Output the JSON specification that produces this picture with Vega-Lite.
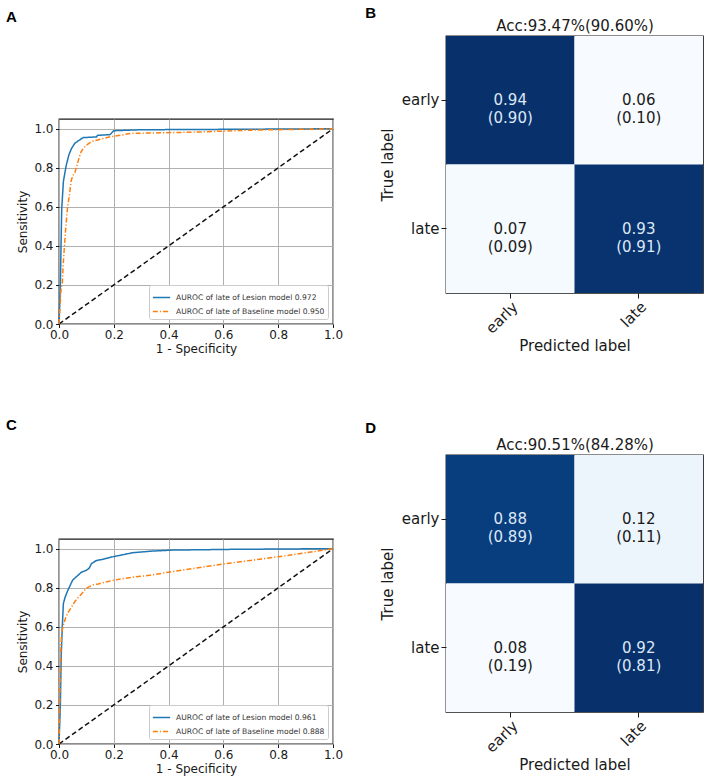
{
  "$schema": "https://vega.github.io/schema/vega-lite/v6.json",
  "background": "#ffffff",
  "padding": {"left": 5, "top": 5, "right": 5, "bottom": 5},
  "datasets": {
    "diag": [
      {"fpr": 0, "tpr": 0},
      {"fpr": 1, "tpr": 1}
    ],
    "rocA": [
      {"model": "AUROC of late of Lesion model 0.972", "fpr": 0, "tpr": 0},
      {"model": "AUROC of late of Lesion model 0.972", "fpr": 0.005, "tpr": 0.2},
      {"model": "AUROC of late of Lesion model 0.972", "fpr": 0.008, "tpr": 0.45},
      {"model": "AUROC of late of Lesion model 0.972", "fpr": 0.01, "tpr": 0.59},
      {"model": "AUROC of late of Lesion model 0.972", "fpr": 0.016, "tpr": 0.73},
      {"model": "AUROC of late of Lesion model 0.972", "fpr": 0.026, "tpr": 0.81},
      {"model": "AUROC of late of Lesion model 0.972", "fpr": 0.036, "tpr": 0.866},
      {"model": "AUROC of late of Lesion model 0.972", "fpr": 0.046, "tpr": 0.9},
      {"model": "AUROC of late of Lesion model 0.972", "fpr": 0.058, "tpr": 0.926},
      {"model": "AUROC of late of Lesion model 0.972", "fpr": 0.07, "tpr": 0.938},
      {"model": "AUROC of late of Lesion model 0.972", "fpr": 0.089, "tpr": 0.955},
      {"model": "AUROC of late of Lesion model 0.972", "fpr": 0.137, "tpr": 0.958},
      {"model": "AUROC of late of Lesion model 0.972", "fpr": 0.14, "tpr": 0.966},
      {"model": "AUROC of late of Lesion model 0.972", "fpr": 0.186, "tpr": 0.97},
      {"model": "AUROC of late of Lesion model 0.972", "fpr": 0.2, "tpr": 0.99},
      {"model": "AUROC of late of Lesion model 0.972", "fpr": 0.3, "tpr": 0.995},
      {"model": "AUROC of late of Lesion model 0.972", "fpr": 0.6, "tpr": 0.997},
      {"model": "AUROC of late of Lesion model 0.972", "fpr": 1, "tpr": 1},
      {"model": "AUROC of late of Baseline model 0.950", "fpr": 0, "tpr": 0},
      {"model": "AUROC of late of Baseline model 0.950", "fpr": 0.008, "tpr": 0.19},
      {"model": "AUROC of late of Baseline model 0.950", "fpr": 0.012, "tpr": 0.2},
      {"model": "AUROC of late of Baseline model 0.950", "fpr": 0.015, "tpr": 0.3},
      {"model": "AUROC of late of Baseline model 0.950", "fpr": 0.02, "tpr": 0.4},
      {"model": "AUROC of late of Baseline model 0.950", "fpr": 0.025, "tpr": 0.5},
      {"model": "AUROC of late of Baseline model 0.950", "fpr": 0.03, "tpr": 0.58},
      {"model": "AUROC of late of Baseline model 0.950", "fpr": 0.034, "tpr": 0.625},
      {"model": "AUROC of late of Baseline model 0.950", "fpr": 0.038, "tpr": 0.66},
      {"model": "AUROC of late of Baseline model 0.950", "fpr": 0.044, "tpr": 0.73},
      {"model": "AUROC of late of Baseline model 0.950", "fpr": 0.05, "tpr": 0.76},
      {"model": "AUROC of late of Baseline model 0.950", "fpr": 0.058, "tpr": 0.775},
      {"model": "AUROC of late of Baseline model 0.950", "fpr": 0.065, "tpr": 0.81},
      {"model": "AUROC of late of Baseline model 0.950", "fpr": 0.073, "tpr": 0.85},
      {"model": "AUROC of late of Baseline model 0.950", "fpr": 0.08, "tpr": 0.88},
      {"model": "AUROC of late of Baseline model 0.950", "fpr": 0.089, "tpr": 0.9},
      {"model": "AUROC of late of Baseline model 0.950", "fpr": 0.1, "tpr": 0.916},
      {"model": "AUROC of late of Baseline model 0.950", "fpr": 0.119, "tpr": 0.935},
      {"model": "AUROC of late of Baseline model 0.950", "fpr": 0.156, "tpr": 0.948},
      {"model": "AUROC of late of Baseline model 0.950", "fpr": 0.19, "tpr": 0.96},
      {"model": "AUROC of late of Baseline model 0.950", "fpr": 0.229, "tpr": 0.968},
      {"model": "AUROC of late of Baseline model 0.950", "fpr": 0.259, "tpr": 0.976},
      {"model": "AUROC of late of Baseline model 0.950", "fpr": 0.5, "tpr": 0.983},
      {"model": "AUROC of late of Baseline model 0.950", "fpr": 0.7, "tpr": 0.993},
      {"model": "AUROC of late of Baseline model 0.950", "fpr": 1, "tpr": 1}
    ],
    "rocC": [
      {"model": "AUROC of late of Lesion model 0.961", "fpr": 0, "tpr": 0},
      {"model": "AUROC of late of Lesion model 0.961", "fpr": 0.005, "tpr": 0.2},
      {"model": "AUROC of late of Lesion model 0.961", "fpr": 0.008, "tpr": 0.45},
      {"model": "AUROC of late of Lesion model 0.961", "fpr": 0.012, "tpr": 0.6},
      {"model": "AUROC of late of Lesion model 0.961", "fpr": 0.016, "tpr": 0.72},
      {"model": "AUROC of late of Lesion model 0.961", "fpr": 0.022, "tpr": 0.75},
      {"model": "AUROC of late of Lesion model 0.961", "fpr": 0.03, "tpr": 0.78},
      {"model": "AUROC of late of Lesion model 0.961", "fpr": 0.04, "tpr": 0.81},
      {"model": "AUROC of late of Lesion model 0.961", "fpr": 0.05, "tpr": 0.84},
      {"model": "AUROC of late of Lesion model 0.961", "fpr": 0.058, "tpr": 0.85},
      {"model": "AUROC of late of Lesion model 0.961", "fpr": 0.07, "tpr": 0.865},
      {"model": "AUROC of late of Lesion model 0.961", "fpr": 0.082, "tpr": 0.88},
      {"model": "AUROC of late of Lesion model 0.961", "fpr": 0.1, "tpr": 0.89},
      {"model": "AUROC of late of Lesion model 0.961", "fpr": 0.11, "tpr": 0.9},
      {"model": "AUROC of late of Lesion model 0.961", "fpr": 0.119, "tpr": 0.925},
      {"model": "AUROC of late of Lesion model 0.961", "fpr": 0.137, "tpr": 0.94},
      {"model": "AUROC of late of Lesion model 0.961", "fpr": 0.156, "tpr": 0.945},
      {"model": "AUROC of late of Lesion model 0.961", "fpr": 0.2, "tpr": 0.96},
      {"model": "AUROC of late of Lesion model 0.961", "fpr": 0.27, "tpr": 0.98},
      {"model": "AUROC of late of Lesion model 0.961", "fpr": 0.34, "tpr": 0.988},
      {"model": "AUROC of late of Lesion model 0.961", "fpr": 0.41, "tpr": 0.993},
      {"model": "AUROC of late of Lesion model 0.961", "fpr": 0.63, "tpr": 0.997},
      {"model": "AUROC of late of Lesion model 0.961", "fpr": 0.94, "tpr": 1},
      {"model": "AUROC of late of Lesion model 0.961", "fpr": 1, "tpr": 1},
      {"model": "AUROC of late of Baseline model 0.888", "fpr": 0, "tpr": 0},
      {"model": "AUROC of late of Baseline model 0.888", "fpr": 0.004, "tpr": 0.3},
      {"model": "AUROC of late of Baseline model 0.888", "fpr": 0.007, "tpr": 0.5},
      {"model": "AUROC of late of Baseline model 0.888", "fpr": 0.01, "tpr": 0.57},
      {"model": "AUROC of late of Baseline model 0.888", "fpr": 0.016, "tpr": 0.61},
      {"model": "AUROC of late of Baseline model 0.888", "fpr": 0.025, "tpr": 0.65},
      {"model": "AUROC of late of Baseline model 0.888", "fpr": 0.034, "tpr": 0.675},
      {"model": "AUROC of late of Baseline model 0.888", "fpr": 0.045, "tpr": 0.7},
      {"model": "AUROC of late of Baseline model 0.888", "fpr": 0.058, "tpr": 0.73},
      {"model": "AUROC of late of Baseline model 0.888", "fpr": 0.07, "tpr": 0.75},
      {"model": "AUROC of late of Baseline model 0.888", "fpr": 0.083, "tpr": 0.77},
      {"model": "AUROC of late of Baseline model 0.888", "fpr": 0.095, "tpr": 0.79},
      {"model": "AUROC of late of Baseline model 0.888", "fpr": 0.107, "tpr": 0.804},
      {"model": "AUROC of late of Baseline model 0.888", "fpr": 0.125, "tpr": 0.815},
      {"model": "AUROC of late of Baseline model 0.888", "fpr": 0.143, "tpr": 0.82},
      {"model": "AUROC of late of Baseline model 0.888", "fpr": 0.17, "tpr": 0.83},
      {"model": "AUROC of late of Baseline model 0.888", "fpr": 0.2, "tpr": 0.839},
      {"model": "AUROC of late of Baseline model 0.888", "fpr": 0.277, "tpr": 0.856},
      {"model": "AUROC of late of Baseline model 0.888", "fpr": 0.33, "tpr": 0.864},
      {"model": "AUROC of late of Baseline model 0.888", "fpr": 0.4, "tpr": 0.88},
      {"model": "AUROC of late of Baseline model 0.888", "fpr": 0.6, "tpr": 0.922},
      {"model": "AUROC of late of Baseline model 0.888", "fpr": 0.8, "tpr": 0.959},
      {"model": "AUROC of late of Baseline model 0.888", "fpr": 1, "tpr": 1}
    ],
    "cmB": [
      {"actual": "early", "pred": "early", "v": 0.94, "b": 0.90},
      {"actual": "early", "pred": "late", "v": 0.06, "b": 0.10},
      {"actual": "late", "pred": "early", "v": 0.07, "b": 0.09},
      {"actual": "late", "pred": "late", "v": 0.93, "b": 0.91}
    ],
    "cmD": [
      {"actual": "early", "pred": "early", "v": 0.88, "b": 0.89},
      {"actual": "early", "pred": "late", "v": 0.12, "b": 0.11},
      {"actual": "late", "pred": "early", "v": 0.08, "b": 0.19},
      {"actual": "late", "pred": "late", "v": 0.92, "b": 0.81}
    ]
  },
  "spacing": 20,
  "resolve": {"scale": {"color": "independent", "strokeDash": "independent"}, "legend": {"color": "independent", "strokeDash": "independent"}},
  "hconcat": [
    {
      "spacing": 61,
      "resolve": {"scale": {"color": "independent", "strokeDash": "independent"}, "legend": {"color": "independent", "strokeDash": "independent"}},
      "vconcat": [
        {
          "width": 274,
          "height": 21,
          "view": {"stroke": null},
          "title": {"text": "A", "offset": 11, "dx": -53},
          "data": {"values": []},
          "mark": "rect"
        },
        {
          "width": 274,
          "height": 205,
          "layer": [
            {
              "data": {"name": "diag"},
              "mark": {"type": "line", "color": "#111111", "strokeWidth": 1.5, "strokeDash": [5, 3]},
              "encoding": {
                "x": {"field": "fpr", "type": "quantitative", "scale": {"domain": [0, 1], "nice": false, "zero": false},
                  "axis": {"title": "1 - Specificity", "values": [0, 0.2, 0.4, 0.6, 0.8, 1.0], "format": ".1f", "grid": true, "gridColor": "#b0b0b0", "gridWidth": 1, "tickSize": 3.5, "labelPadding": 2, "labelFontSize": 12, "titleFontSize": 12, "titlePadding": 3, "labelFlush": false, "labelOverlap": false}},
                "y": {"field": "tpr", "type": "quantitative", "scale": {"domain": [0, 1.05], "nice": false, "zero": false},
                  "axis": {"title": "Sensitivity", "values": [0, 0.2, 0.4, 0.6, 0.8, 1.0], "format": ".1f", "grid": true, "gridColor": "#b0b0b0", "gridWidth": 1, "tickSize": 3.5, "labelPadding": 2.5, "labelFontSize": 12, "titleFontSize": 12, "titlePadding": 4, "labelFlush": false, "labelOverlap": false}}
              }
            },
            {
              "data": {"name": "rocA"},
              "mark": {"type": "line", "strokeWidth": 1.5},
              "encoding": {
                "x": {"field": "fpr", "type": "quantitative"},
                "y": {"field": "tpr", "type": "quantitative"},
                "order": [{"field": "fpr", "type": "quantitative"}, {"field": "tpr", "type": "quantitative"}],
                "color": {"field": "model", "type": "nominal",
                  "scale": {"domain": ["AUROC of late of Lesion model 0.972", "AUROC of late of Baseline model 0.950"], "range": ["#1f77b4", "#ff7f0e"]},
                  "legend": {"title": null, "orient": "bottom-right", "offset": 5, "strokeColor": "#cccccc", "fillColor": "#ffffff", "padding": 3, "cornerRadius": 2, "labelFontSize": 7.6, "labelFont": "DejaVu Sans", "labelColor": "#333333", "labelLimit": 300, "symbolType": "stroke", "symbolSize": 300, "symbolStrokeWidth": 1.5, "rowPadding": 0, "labelOffset": 5}},
                "strokeDash": {"field": "model", "type": "nominal",
                  "scale": {"domain": ["AUROC of late of Lesion model 0.972", "AUROC of late of Baseline model 0.950"], "range": [[1, 0], [5, 2, 1.2, 2]]},
                  "legend": {"title": null, "orient": "bottom-right", "offset": 5, "strokeColor": "#cccccc", "fillColor": "#ffffff", "padding": 3, "cornerRadius": 2, "labelFontSize": 7.6, "labelFont": "DejaVu Sans", "labelColor": "#333333", "labelLimit": 300, "symbolType": "stroke", "symbolSize": 300, "symbolStrokeWidth": 1.5, "rowPadding": 0, "labelOffset": 5}}
              }
            }
          ]
        },
        {
          "width": 274,
          "height": 205,
          "title": {"text": "C", "offset": 106, "dx": -11},
          "layer": [
            {
              "data": {"name": "diag"},
              "mark": {"type": "line", "color": "#111111", "strokeWidth": 1.5, "strokeDash": [5, 3]},
              "encoding": {
                "x": {"field": "fpr", "type": "quantitative", "scale": {"domain": [0, 1], "nice": false, "zero": false},
                  "axis": {"title": "1 - Specificity", "values": [0, 0.2, 0.4, 0.6, 0.8, 1.0], "format": ".1f", "grid": true, "gridColor": "#b0b0b0", "gridWidth": 1, "tickSize": 3.5, "labelPadding": 2, "labelFontSize": 12, "titleFontSize": 12, "titlePadding": 3, "labelFlush": false, "labelOverlap": false}},
                "y": {"field": "tpr", "type": "quantitative", "scale": {"domain": [0, 1.05], "nice": false, "zero": false},
                  "axis": {"title": "Sensitivity", "values": [0, 0.2, 0.4, 0.6, 0.8, 1.0], "format": ".1f", "grid": true, "gridColor": "#b0b0b0", "gridWidth": 1, "tickSize": 3.5, "labelPadding": 2.5, "labelFontSize": 12, "titleFontSize": 12, "titlePadding": 4, "labelFlush": false, "labelOverlap": false}}
              }
            },
            {
              "data": {"name": "rocC"},
              "mark": {"type": "line", "strokeWidth": 1.5},
              "encoding": {
                "x": {"field": "fpr", "type": "quantitative"},
                "y": {"field": "tpr", "type": "quantitative"},
                "order": [{"field": "fpr", "type": "quantitative"}, {"field": "tpr", "type": "quantitative"}],
                "color": {"field": "model", "type": "nominal",
                  "scale": {"domain": ["AUROC of late of Lesion model 0.961", "AUROC of late of Baseline model 0.888"], "range": ["#1f77b4", "#ff7f0e"]},
                  "legend": {"title": null, "orient": "bottom-right", "offset": 5, "strokeColor": "#cccccc", "fillColor": "#ffffff", "padding": 3, "cornerRadius": 2, "labelFontSize": 7.6, "labelFont": "DejaVu Sans", "labelColor": "#333333", "labelLimit": 300, "symbolType": "stroke", "symbolSize": 300, "symbolStrokeWidth": 1.5, "rowPadding": 0, "labelOffset": 5}},
                "strokeDash": {"field": "model", "type": "nominal",
                  "scale": {"domain": ["AUROC of late of Lesion model 0.961", "AUROC of late of Baseline model 0.888"], "range": [[1, 0], [5, 2, 1.2, 2]]},
                  "legend": {"title": null, "orient": "bottom-right", "offset": 5, "strokeColor": "#cccccc", "fillColor": "#ffffff", "padding": 3, "cornerRadius": 2, "labelFontSize": 7.6, "labelFont": "DejaVu Sans", "labelColor": "#333333", "labelLimit": 300, "symbolType": "stroke", "symbolSize": 300, "symbolStrokeWidth": 1.5, "rowPadding": 0, "labelOffset": 5}}
              }
            }
          ]
        }
      ]
    },
    {
      "spacing": 66,
      "resolve": {"scale": {"color": "independent"}},
      "vconcat": [
        {
          "width": 257,
          "height": 257,
          "title": {"text": "B", "offset": -3, "dx": -15},
          "data": {"name": "cmB"},
          "transform": [{"calculate": "format(datum.v, '.2f') + '\\n(' + format(datum.b, '.2f') + ')'", "as": "label"}],
          "layer": [
            {
              "mark": "rect",
              "encoding": {
                "x": {"field": "pred", "type": "nominal", "sort": ["early", "late"], "scale": {"paddingInner": 0, "paddingOuter": 0},
                  "axis": {"title": "Predicted label", "labelAngle": -45, "labelFontSize": 15, "titleFontSize": 15, "tickSize": 5, "labelPadding": 1, "titlePadding": 2, "grid": false}},
                "y": {"field": "actual", "type": "nominal", "sort": ["early", "late"], "scale": {"paddingInner": 0, "paddingOuter": 0},
                  "axis": {"title": "True label", "labelAngle": 0, "labelFontSize": 15, "titleFontSize": 15, "tickSize": 5, "labelPadding": 2, "titlePadding": 6, "grid": false}},
                "color": {"field": "v", "type": "quantitative", "legend": null,
                  "scale": {"domain": [0.06, 0.17, 0.28, 0.39, 0.5, 0.61, 0.72, 0.83, 0.94], "range": ["#f7fbff", "#deebf7", "#c6dbef", "#9ecae1", "#6baed6", "#4292c6", "#2171b5", "#08519c", "#08306b"], "interpolate": "rgb"}}
              }
            },
            {
              "mark": {"type": "text", "lineBreak": "\n", "fontSize": 15, "lineHeight": 18, "font": "DejaVu Sans"},
              "encoding": {
                "x": {"field": "pred", "type": "nominal", "sort": ["early", "late"],
                  "axis": {"orient": "top", "labels": false, "ticks": false, "domain": false, "grid": false, "title": "Acc:93.47%(90.60%)", "titleFontSize": 15, "titlePadding": 3}},
                "y": {"field": "actual", "type": "nominal", "sort": ["early", "late"]},
                "text": {"field": "label"},
                "color": {"condition": {"test": "datum.v > 0.5", "value": "#dce8f6"}, "value": "#1a1a1a"}
              }
            }
          ],
          "resolve": {"axis": {"x": "independent"}}
        },
        {
          "width": 257,
          "height": 257,
          "title": {"text": "D", "offset": 1, "dx": -15},
          "data": {"name": "cmD"},
          "transform": [{"calculate": "format(datum.v, '.2f') + '\\n(' + format(datum.b, '.2f') + ')'", "as": "label"}],
          "layer": [
            {
              "mark": "rect",
              "encoding": {
                "x": {"field": "pred", "type": "nominal", "sort": ["early", "late"], "scale": {"paddingInner": 0, "paddingOuter": 0},
                  "axis": {"title": "Predicted label", "labelAngle": -45, "labelFontSize": 15, "titleFontSize": 15, "tickSize": 5, "labelPadding": 1, "titlePadding": 2, "grid": false}},
                "y": {"field": "actual", "type": "nominal", "sort": ["early", "late"], "scale": {"paddingInner": 0, "paddingOuter": 0},
                  "axis": {"title": "True label", "labelAngle": 0, "labelFontSize": 15, "titleFontSize": 15, "tickSize": 5, "labelPadding": 2, "titlePadding": 6, "grid": false}},
                "color": {"field": "v", "type": "quantitative", "legend": null,
                  "scale": {"domain": [0.08, 0.185, 0.29, 0.395, 0.5, 0.605, 0.71, 0.815, 0.92], "range": ["#f7fbff", "#deebf7", "#c6dbef", "#9ecae1", "#6baed6", "#4292c6", "#2171b5", "#08519c", "#08306b"], "interpolate": "rgb"}}
              }
            },
            {
              "mark": {"type": "text", "lineBreak": "\n", "fontSize": 15, "lineHeight": 18, "font": "DejaVu Sans"},
              "encoding": {
                "x": {"field": "pred", "type": "nominal", "sort": ["early", "late"],
                  "axis": {"orient": "top", "labels": false, "ticks": false, "domain": false, "grid": false, "title": "Acc:90.51%(84.28%)", "titleFontSize": 15, "titlePadding": 3}},
                "y": {"field": "actual", "type": "nominal", "sort": ["early", "late"]},
                "text": {"field": "label"},
                "color": {"condition": {"test": "datum.v > 0.5", "value": "#dce8f6"}, "value": "#1a1a1a"}
              }
            }
          ],
          "resolve": {"axis": {"x": "independent"}}
        }
      ]
    }
  ],
  "config": {
    "view": {"stroke": "#1a1a1a", "strokeWidth": 1.3},
    "font": "DejaVu Sans",
    "axis": {"labelFont": "DejaVu Sans", "titleFont": "DejaVu Sans", "titleFontWeight": "normal", "labelColor": "#1a1a1a", "titleColor": "#1a1a1a", "tickColor": "#1a1a1a", "domain": false},
    "title": {"font": "Liberation Sans", "fontWeight": "bold", "fontSize": 15, "anchor": "start", "frame": "bounds", "color": "#000000"}
  }
}
